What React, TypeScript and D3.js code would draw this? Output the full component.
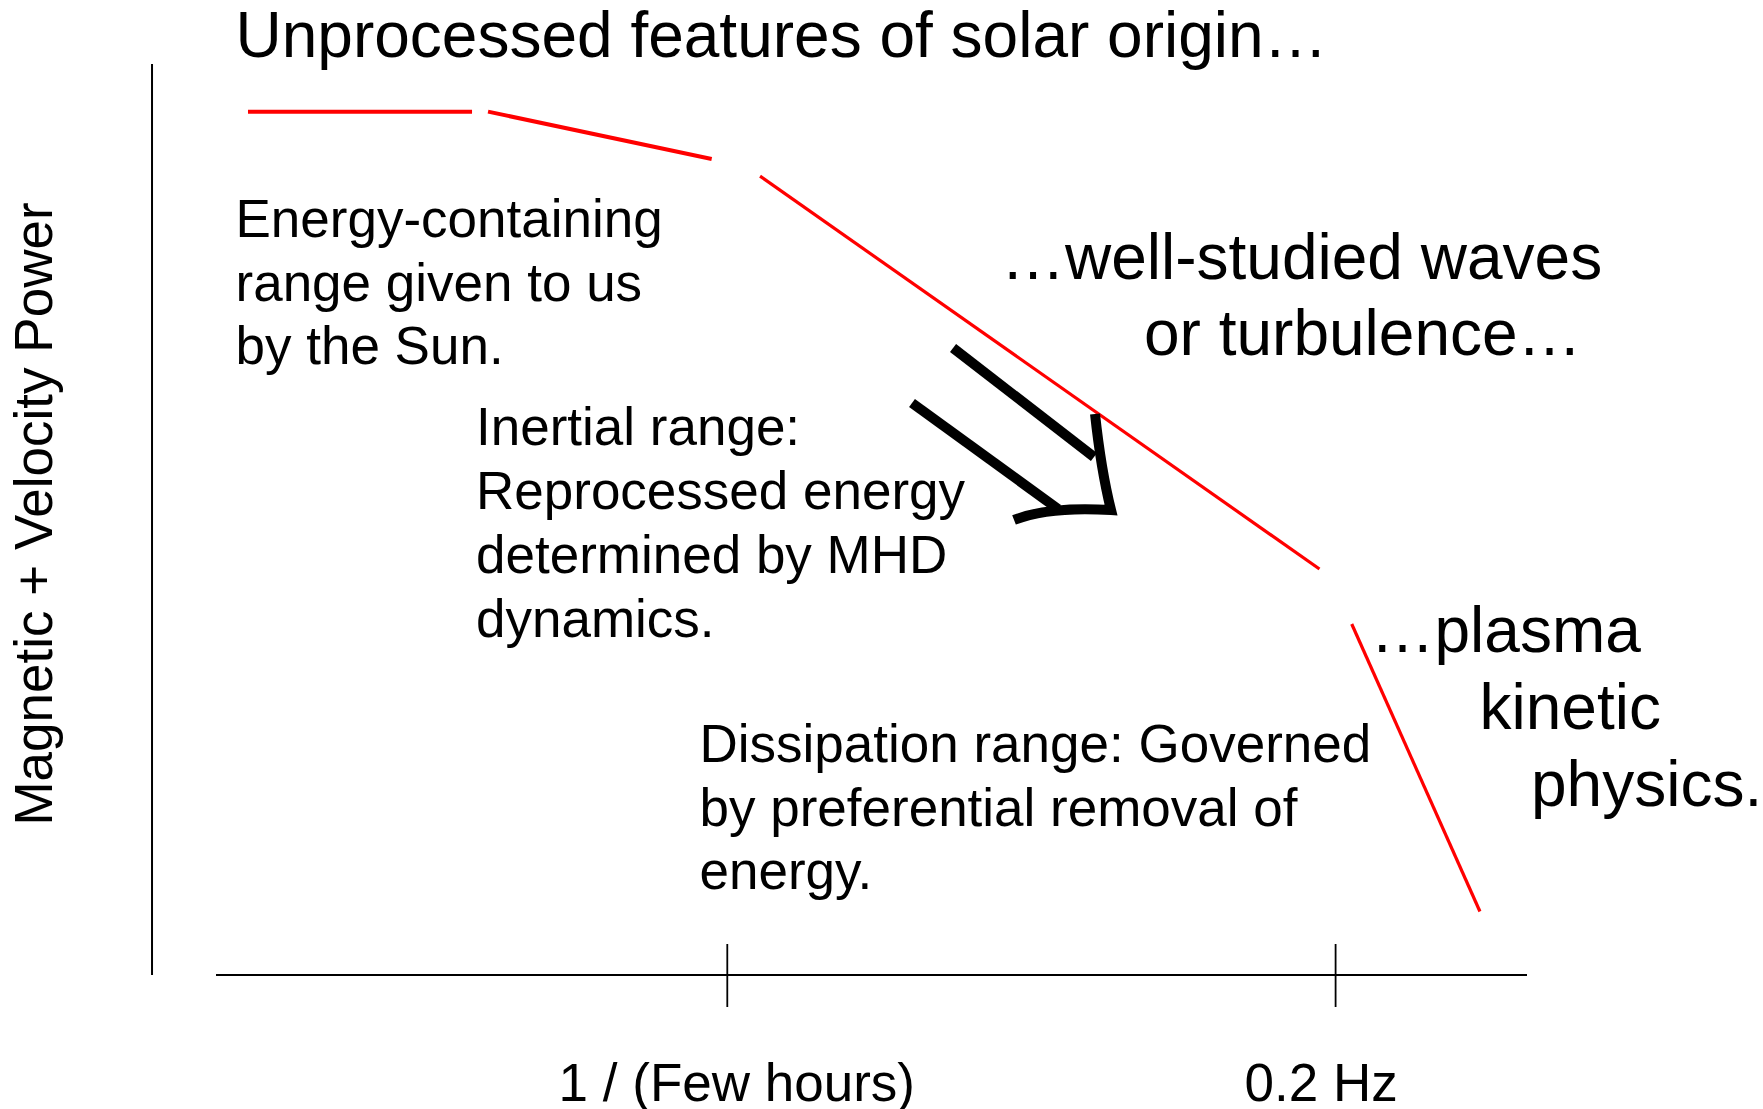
import React from "react";
import * as d3 from "d3";

// ---- data (schematic units: x 0..100 along frequency, y 0..100 along power) ----
const spectrumSegments = [
  { x0: 2.44, y0: 94.77, x1: 19.53, y1: 94.77, w: 4 },
  { x0: 20.75, y0: 94.77, x1: 37.81, y1: 89.57, w: 4 },
  { x0: 41.5, y0: 87.69, x1: 84.17, y1: 44.56, w: 3.2 },
  { x0: 86.63, y0: 38.53, x1: 96.41, y1: 6.97, w: 3.2 },
];
const tickValues = [39.0, 85.4];
const tickLabels = ["1 / (Few hours)", "0.2 Hz"];
const arrowShaftUpper = [[56.22, 68.83], [66.97, 56.86]];
const arrowShaftLower = [[53.09, 62.79], [64.23, 51.15]];
const arrowHead = [[67.05, 61.58], [67.51, 55.43], [68.27, 51.04], [63.62, 51.48], [60.87, 49.95]];

const titleText = "Unprocessed features of solar origin…";
const yAxisLabel = "Magnetic + Velocity Power";
const energyLines = ["Energy-containing", "range given to us", "by the Sun."];
const inertialLines = ["Inertial range:", "Reprocessed energy", "determined by MHD", "dynamics."];
const dissipationLines = ["Dissipation range: Governed", "by preferential removal of", "energy."];

const W = 1763;
const H = 1109;
const FONT = "'Liberation Sans', Arial, Helvetica, sans-serif";

export default function App() {
  const x = d3.scaleLinear().domain([0, 100]).range([216, 1527]);
  const y = d3.scaleLinear().domain([0, 100]).range([975, 64]);

  const line = d3.line<number[]>().x((d) => x(d[0])).y((d) => y(d[1]));
  const h = arrowHead;
  const headPath = `M${x(h[0][0])},${y(h[0][1])} Q${x(h[1][0])},${y(h[1][1])} ${x(h[2][0])},${y(h[2][1])} Q${x(h[3][0])},${y(h[3][1])} ${x(h[4][0])},${y(h[4][1])}`;

  const labelDx = [9.5, -14.5];

  return (
    <svg
      width={W}
      height={H}
      style={{ position: "absolute", left: 0, top: 0, display: "block", background: "#fff" }}
      fontFamily={FONT}
    >
      <rect x={0} y={0} width={W} height={H} fill="#fff" />
      {/* axes */}
      <line x1={x(-4.88)} x2={x(-4.88)} y1={y(100)} y2={y(0)} stroke="#000" strokeWidth={2} />
      <line x1={x(0)} x2={x(100)} y1={y(0)} y2={y(0)} stroke="#000" strokeWidth={2.2} />
      {tickValues.map((t, i) => (
        <g key={i}>
          <line x1={x(t)} x2={x(t)} y1={y(0) - 31} y2={y(0) + 32} stroke="#000" strokeWidth={1.8} />
          <text x={x(t) + labelDx[i]} y={1101} fontSize={53} textAnchor="middle" fill="#000">
            {tickLabels[i]}
          </text>
        </g>
      ))}
      {/* y axis label */}
      <text transform="translate(52,514) rotate(-90)" fontSize={53} textAnchor="middle" fill="#000">
        {yAxisLabel}
      </text>
      {/* title */}
      <text x={235.5} y={57} fontSize={64} fill="#000">{titleText}</text>

      {/* spectrum */}
      {spectrumSegments.map((s, i) => (
        <line key={i} x1={x(s.x0)} y1={y(s.y0)} x2={x(s.x1)} y2={y(s.y1)} stroke="#ff0000" strokeWidth={s.w} />
      ))}

      {/* arrow */}
      <path d={line(arrowShaftUpper as any) || ""} stroke="#000" strokeWidth={10} fill="none" />
      <path d={line(arrowShaftLower as any) || ""} stroke="#000" strokeWidth={10} fill="none" />
      <path d={headPath} stroke="#000" strokeWidth={10} fill="none" strokeLinejoin="miter" />

      {/* annotations */}
      {energyLines.map((t, i) => (
        <text key={i} x={235.5} y={237 + i * 63.5} fontSize={53} fill="#000">{t}</text>
      ))}
      {inertialLines.map((t, i) => (
        <text key={i} x={476} y={445 + i * 64} fontSize={53} fill="#000">{t}</text>
      ))}
      {dissipationLines.map((t, i) => (
        <text key={i} x={699.5} y={762 + i * 63.5} fontSize={53} fill="#000">{t}</text>
      ))}
      <text x={1001} y={279} fontSize={64} fill="#000">…well-studied waves</text>
      <text x={1144} y={355} fontSize={64} fill="#000">or turbulence…</text>
      <text x={1370.5} y={652} fontSize={64} fill="#000">…plasma</text>
      <text x={1479.5} y={729} fontSize={64} fill="#000">kinetic</text>
      <text x={1531} y={806} fontSize={64} fill="#000">physics.</text>
    </svg>
  );
}
